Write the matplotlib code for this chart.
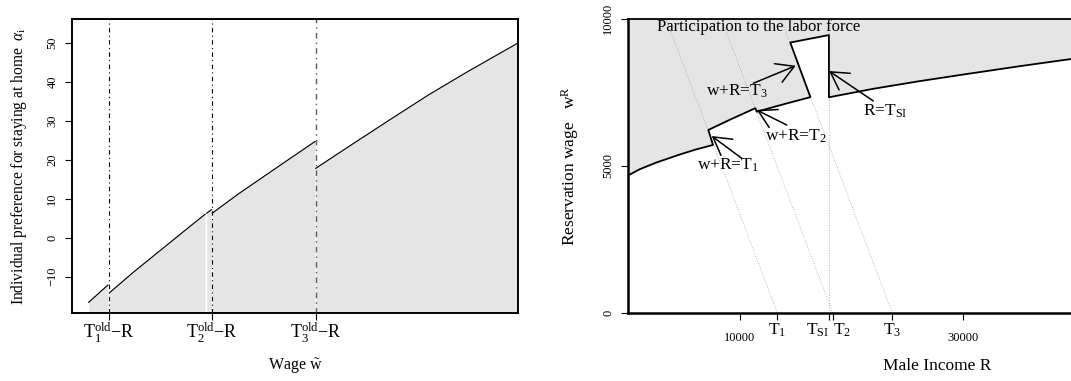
import matplotlib
matplotlib.use('Agg')
import matplotlib.pyplot as plt
from matplotlib.transforms import ScaledTranslation

plt.rcParams['font.family'] = ['Liberation Serif', 'DejaVu Serif']
plt.rcParams['mathtext.fontset'] = 'custom'
plt.rcParams['mathtext.rm'] = 'Liberation Serif'
plt.rcParams['mathtext.it'] = 'Liberation Serif:italic'
plt.rcParams['mathtext.bf'] = 'Liberation Serif:bold'

# ---------------- left panel data (wage, preference alpha) ----------------
left_thresholds = [206, 1236, 2268]
left_threshold_labels = [r'$\mathrm{T}_1^{\mathrm{old}}$−R',
                         r'$\mathrm{T}_2^{\mathrm{old}}$−R',
                         r'$\mathrm{T}_3^{\mathrm{old}}$−R']
left_yticks = [-10, 0, 10, 20, 30, 40, 50]

seg1_w = [0, 190]
seg1_alpha = [-16.6, -12.2]
seg2_w = [210, 450, 700, 950, 1163]
seg2_alpha = [-14.1, -8.8, -3.6, 1.6, 6.0]
seg3_w = [1180, 1228]
seg3_alpha = [6.3, 7.2]
seg4_w = [1236, 1500, 1750, 2000, 2263]
seg4_alpha = [6.3, 11.3, 15.7, 20.1, 24.7]
seg5_w = [2270, 2600, 3000, 3400, 3800, 4293]
seg5_alpha = [17.8, 23.4, 30.1, 36.7, 42.8, 50.0]

# ---------------- right panel data (male income R, reservation wage) ----------------
T1, TSI, T2, T3 = 13370, 18000, 18340, 23690
right_major_ticks = [T1, TSI, T2, T3]
right_major_labels = [r'$\mathrm{T}_1$', r'$\mathrm{T}_{\mathrm{SI}}$', r'$\mathrm{T}_2$', r'$\mathrm{T}_3$']
right_minor_ticks = [10000, 30000]
right_minor_labels = ['10000', '30000']
right_yticks = [0, 5000, 10000]

curve1_R = [0, 1000, 2500, 4500, 6000, 7600]
curve1_w = [4677, 4880, 5110, 5370, 5550, 5710]
piece1_R = [7180, 9300, 11400]
piece1_w = [6220, 6600, 6960]
piece2_R = [11520, 14000, 16340]
piece2_w = [6840, 7100, 7335]
wedge_R = [14530, TSI, TSI]
wedge_w = [9190, 9445, 7330]
curve2_R = [TSI, 22000, 26000, 30000, 35000, 39720]
curve2_w = [7330, 7620, 7870, 8100, 8380, 8630]

GRAY = '#e5e5e5'
W, H = 1071, 381

fig = plt.figure(figsize=(W / 100, H / 100), dpi=100)

# ======================= LEFT PANEL =======================
axL = fig.add_axes([72.3 / W, 1 - 313 / H, (518 - 72.3) / W, (313 - 18.7) / H])
axL.set_xlim(-164, 4293)
axL.set_ylim(-19.34, 56.24)
ybot = axL.get_ylim()[0] - 5
segs = [(seg1_w, seg1_alpha), (seg2_w, seg2_alpha), (seg3_w, seg3_alpha),
        (seg4_w, seg4_alpha), (seg5_w, seg5_alpha)]
for w, a in segs:
    axL.fill_between(w, a, ybot, color=GRAY, lw=0, zorder=1)
    axL.plot(w, a, color='black', lw=0.85, zorder=3)
for i, t in enumerate(left_thresholds):
    axL.axvline(t, color='black' if i < 2 else '0.35', lw=0.8 if i < 2 else 1.0,
                ls=(0, (4, 3, 1, 3)), zorder=2)

axL.set_xticks(left_thresholds)
axL.set_xticklabels(left_threshold_labels, fontsize=13)
axL.set_yticks(left_yticks)
axL.set_yticklabels([str(v).replace('-', '−') for v in left_yticks], fontsize=9)
for lab in axL.get_yticklabels():
    lab.set_rotation(90)
    lab.set_va('center')
axL.tick_params(axis='x', length=5, width=0.8, pad=0.5)
axL.tick_params(axis='y', length=5, width=0.8, pad=5, colors='black')
for s in axL.spines.values():
    s.set_linewidth(1.4)
axL.set_xlabel(r'Wage $\tilde{\mathrm{w}}$', fontsize=11.5)
axL.xaxis.set_label_coords(0.5, -0.146)
axL.set_ylabel(r'Individual preference for staying at home  $\alpha_{\mathrm{i}}$',
               fontsize=11.2, va='center')
axL.yaxis.set_label_coords(-0.12, 0.5)

# ======================= RIGHT PANEL =======================
axR = fig.add_axes([628.3 / W, 1 - 313 / H, (W - 628.3) / W, (313 - 18.7) / H])
axR.set_xlim(0, 39720)
axR.set_ylim(0, 10000)

bound_R = curve1_R + piece1_R + piece2_R + wedge_R + curve2_R
bound_w = curve1_w + piece1_w + piece2_w + wedge_w + curve2_w
xmax = axR.get_xlim()[1]
ymax = axR.get_ylim()[1]
axR.fill(bound_R + [xmax, 0], bound_w + [ymax, ymax], color=GRAY, lw=0, zorder=1)

# dotted guide lines w + R = T and R = T_SI
for t in [T1, T2, T3]:
    axR.plot([t, t - ymax], [0, ymax], color='0.62', lw=0.6, ls=(0, (1, 2)), zorder=2)
axR.plot([TSI, TSI], [0, ymax], color='0.62', lw=0.6, ls=(0, (1, 2)), zorder=2)

axR.plot(bound_R, bound_w, color='black', lw=1.3, zorder=3)
axR.plot([0, xmax], [ymax, ymax], color='black', lw=1.3, zorder=3, clip_on=False)

arrow_kw = dict(arrowstyle='->, head_length=12.5, head_width=7.2', mutation_scale=1,
                color='black', lw=1.1, shrinkA=0, shrinkB=0)
axR.annotate('', xy=(7483, 6014), xytext=(10175, 5257), arrowprops=arrow_kw, zorder=4)
axR.annotate('', xy=(11521, 6898), xytext=(14213, 6388), arrowprops=arrow_kw, zorder=4)
axR.annotate('', xy=(15021, 8403), xytext=(11216, 7805), arrowprops=arrow_kw, zorder=4)
axR.annotate('', xy=(18009, 8223), xytext=(21984, 7204), arrowprops=arrow_kw, zorder=4)

lab_fs = 12.5
axR.text(8982, 5029, r'w+R=$\mathrm{T}_1$', fontsize=lab_fs, ha='center', va='center', zorder=5)
axR.text(15003, 6014, r'w+R=$\mathrm{T}_2$', fontsize=lab_fs, ha='center', va='center', zorder=5)
axR.text(9727, 7520, r'w+R=$\mathrm{T}_3$', fontsize=lab_fs, ha='center', va='center', zorder=5)
axR.text(23034, 6840, r'R=$\mathrm{T}_{\mathrm{SI}}$', fontsize=lab_fs, ha='center', va='center', zorder=5)
axR.text(11665, 9708, 'Participation to the labor force', fontsize=12, ha='center', va='center', zorder=5)

axR.set_xticks(right_major_ticks)
axR.set_xticklabels(right_major_labels, fontsize=12.5)
xl = axR.get_xticklabels()
xl[1].set_ha('right')
xl[1].set_transform(xl[1].get_transform() + ScaledTranslation(-2 / 100, 0, fig.dpi_scale_trans))
xl[2].set_ha('left')
xl[2].set_transform(xl[2].get_transform() + ScaledTranslation(3 / 100, 0, fig.dpi_scale_trans))
axR.set_xticks(right_minor_ticks, minor=True)
axR.set_xticklabels(right_minor_labels, minor=True, fontsize=9)
axR.tick_params(axis='x', which='major', length=5, width=0.8, pad=1)
axR.tick_params(axis='x', which='minor', length=5, width=0.8, pad=9)
axR.set_yticks(right_yticks)
axR.set_yticklabels([str(v) for v in right_yticks], fontsize=9)
for lab in axR.get_yticklabels():
    lab.set_rotation(90)
    lab.set_va('center')
axR.tick_params(axis='y', length=5, width=0.8, pad=5)
axR.spines['top'].set_visible(False)
axR.spines['right'].set_visible(False)
axR.spines['left'].set_linewidth(1.8)
axR.spines['bottom'].set_linewidth(1.8)
axR.set_xlabel('Male Income R', fontsize=12.5)
axR.xaxis.set_label_coords((937 - 628.3) / (W - 628.3), -0.153)
axR.set_ylabel(r'Reservation wage   $\mathrm{w}^{\mathrm{R}}$', fontsize=12.5, va='center')
axR.yaxis.set_label_coords(-0.132, 0.5)

fig.savefig('out.png', dpi=100, facecolor='white')
